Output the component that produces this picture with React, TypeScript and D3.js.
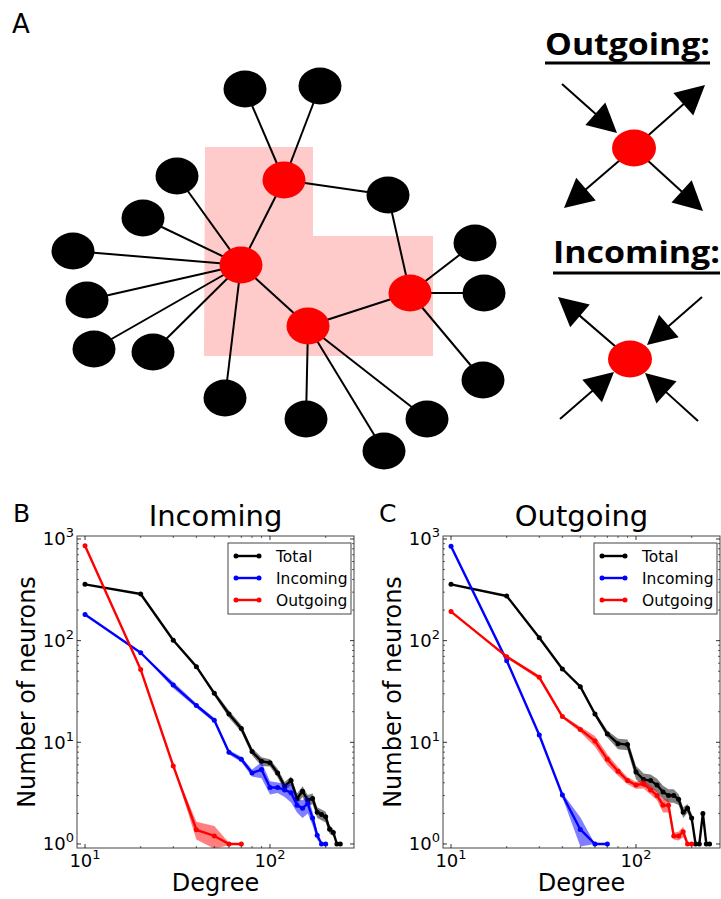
import React from 'react';
import * as d3 from 'd3';

// ---------------- Panel A: network diagram ----------------
const hubX = [284, 241, 308, 410];
const hubY = [180, 265, 326, 293];
const leafX = [245, 320, 177, 143, 73, 87, 94, 153, 225, 306, 384, 427, 483, 484, 475, 388];
const leafY = [89, 86, 176, 218, 251, 300, 349, 352, 398, 419, 451, 419, 380, 293, 243, 195];
const hubHubEdges = [[0, 1], [1, 2], [2, 3]];
const hubLeafEdges = [
  [0, 0], [0, 1], [0, 15],
  [1, 2], [1, 3], [1, 4], [1, 5], [1, 6], [1, 7], [1, 8],
  [2, 9], [2, 10], [2, 11],
  [3, 15], [3, 14], [3, 13], [3, 12],
];
const regionX = [205, 313, 313, 433, 433, 204];
const regionY = [147, 147, 236, 236, 356, 356];

// motif sketches: centre node + arrows [fromX, fromY, tipX, tipY]
const motifLabels = ['Outgoing:', 'Incoming:'];
const motifCenterX = [634, 630];
const motifCenterY = [148, 359];
const outgoingArrows = [
  [562, 84, 617, 133],
  [634, 148, 705, 85],
  [634, 148, 564, 208],
  [634, 148, 703, 211],
];
const incomingArrows = [
  [630, 359, 558, 297],
  [702, 297, 647, 345],
  [560, 419, 614, 372],
  [698, 421, 645, 373],
];

// ---------------- Panels B & C: degree distributions ----------------
const seriesNames = ['Total', 'Incoming', 'Outgoing'];
const seriesColors = ['#000000', '#0000ff', '#ff0000'];

// Panel B ("Incoming")
const degTotalB = [10, 20, 30, 40, 50, 60, 70, 80, 90, 100, 110, 120, 130, 140, 150, 160, 170, 180, 190, 200, 210, 220, 230, 240];
const totalB = [358, 288, 101, 55.5, 30.3, 19, 13.7, 8.1, 6.5, 6.3, 5.0, 3.7, 4.2, 2.8, 3.3, 2.7, 2.8, 2.05, 1.95, 1.85, 1.4, 1.3, 1.0, 1.0];
const totalBSpread = [0, 0, 0, 0.02, 0.05, 0.08, 0.08, 0.08, 0.1, 0.08, 0.1, 0.1, 0.1, 0.12, 0.12, 0.12, 0.12, 0.12, 0.12, 0.12, 0.1, 0.08, 0, 0];
const degInB = [10, 20, 30, 40, 50, 60, 70, 80, 90, 100, 110, 120, 130, 140, 150, 160, 170, 180, 190, 200];
const inB = [181, 76, 36.6, 23, 16.5, 8.0, 6.8, 5.0, 5.4, 3.6, 3.6, 3.4, 3.2, 2.4, 2.25, 2.5, 1.8, 1.22, 1, 1];
const inBSpread = [0, 0, 0.07, 0.05, 0.05, 0.05, 0.06, 0.08, 0.18, 0.15, 0.12, 0.15, 0.2, 0.15, 0.2, 0.2, 0.15, 0.1, 0, 0];
const degOutB = [10, 20, 30, 40, 50, 60, 70];
const outB = [860, 52, 5.85, 1.38, 1.2, 1.0, 1.0];
const outBSpread = [0, 0, 0, 0.2, 0.25, 0.03, 0];

// Panel C ("Outgoing")
const degTotalC = [10, 20, 30, 40, 50, 60, 70, 80, 90, 100, 110, 120, 130, 140, 150, 160, 170, 180, 190, 200, 210, 220, 230, 240, 250];
const totalC = [358, 275, 107, 52.6, 35.3, 19, 12.1, 9.7, 9.5, 5.1, 4.3, 4.2, 3.8, 3.25, 3.0, 3.0, 2.75, 2.05, 2.25, 1.8, 1, 1, 2.0, 1, 1];
const totalCSpread = [0, 0, 0, 0, 0.02, 0.05, 0.08, 0.12, 0.12, 0.15, 0.15, 0.15, 0.15, 0.15, 0.15, 0.15, 0.12, 0.12, 0.1, 0.1, 0, 0, 0, 0, 0];
const degInC = [10, 20, 30, 40, 50, 60, 70];
const inC = [850, 63.6, 11.8, 3.03, 1.39, 1, 1];
const inCSpread = [0, 0, 0, 0.05, 0.32, 0, 0];
const degOutC = [10, 20, 30, 40, 50, 60, 70, 80, 90, 100, 110, 120, 130, 140, 150, 160, 170, 180, 190, 200];
const outC = [193, 69.6, 43.6, 17.9, 13.4, 10.3, 6.8, 5.2, 4.2, 3.8, 3.9, 3.4, 3.0, 2.4, 2.4, 1.2, 1.2, 1.32, 1, 1];
const outCSpread = [0, 0.03, 0.05, 0.03, 0.06, 0.12, 0.12, 0.1, 0.08, 0.08, 0.1, 0.1, 0.1, 0.15, 0.15, 0.08, 0.1, 0.12, 0, 0];

const xMajor = [10, 100];
const xMinor = [20, 30, 40, 50, 60, 70, 80, 90, 200];
const yMajor = [1, 10, 100, 1000];
const yMinor = [2, 3, 4, 5, 6, 7, 8, 9, 20, 30, 40, 50, 60, 70, 80, 90, 200, 300, 400, 500, 600, 700, 800, 900];
const xTickExp = ['1', '2'];
const yTickExp = ['0', '1', '2', '3'];

const FONT = 'DejaVu Sans, sans-serif';

type Series = { deg: number[]; val: number[]; spread: number[] };

function Arrow({ a }: { a: number[] }) {
  const [x0, y0, x1, y1] = a;
  const dx = x1 - x0, dy = y1 - y0;
  const len = Math.hypot(dx, dy);
  const ux = dx / len, uy = dy / len;
  const L = 29, w = 15;
  const bx = x1 - ux * L, by = y1 - uy * L;
  const pts = [[x1, y1], [bx - uy * w, by + ux * w], [bx + uy * w, by - ux * w]];
  return (
    <g>
      <line x1={x0} y1={y0} x2={bx + ux * 2} y2={by + uy * 2} stroke="#000" strokeWidth={2} />
      <polygon points={pts.map((p) => p.join(',')).join(' ')} fill="#000" />
    </g>
  );
}

function Panel({ left, title, letter, series }: { left: number; title: string; letter: string; series: Series[] }) {
  const right = left + 277;
  const top = 536, bottom = 848;
  const x = d3.scaleLog().domain([9.05, 284.6]).range([left, right]);
  const y = d3.scaleLog().domain([0.913, 1070]).range([bottom, top]);
  const line = d3.line<[number, number]>().x((d) => x(d[0])).y((d) => y(d[1]));
  const area = d3
    .area<[number, number, number]>()
    .x((d) => x(d[0]))
    .y0((d) => y(d[1] * (1 - d[2])))
    .y1((d) => y(d[1] * (1 + d[2])));
  const cx = (left + right) / 2;
  const lgX = right - 126, lgY = 543;
  return (
    <g fontFamily={FONT}>
      <text x={left - 64} y={522} fontSize={25}>{letter}</text>
      <text x={cx} y={526} fontSize={29} textAnchor="middle">{title}</text>
      <defs>
        <clipPath id={`clip-${letter}`}>
          <rect x={left} y={top} width={right - left} height={bottom - top} />
        </clipPath>
      </defs>
      <g clipPath={`url(#clip-${letter})`}>
        {series.map((s, i) => {
          const pts = s.deg.map((d, j) => [d, s.val[j], s.spread[j]] as [number, number, number]);
          return (
            <g key={i}>
              <path d={area(pts) || ''} fill={seriesColors[i]} fillOpacity={0.5} stroke="none" />
              <path d={line(pts.map((p) => [p[0], p[1]] as [number, number])) || ''} fill="none" stroke={seriesColors[i]} strokeWidth={2.4} strokeLinejoin="round" />
              {pts.map((p, j) => (
                <circle key={j} cx={x(p[0])} cy={y(p[1])} r={2.5} fill={seriesColors[i]} />
              ))}
            </g>
          );
        })}
      </g>
      {/* frame */}
      <rect x={left} y={top} width={right - left} height={bottom - top} fill="none" stroke="#444" strokeWidth={1} />
      {/* ticks */}
      {xMajor.map((t) => (
        <g key={`xM${t}`} stroke="#000" strokeWidth={0.8}>
          <line x1={x(t)} x2={x(t)} y1={bottom} y2={bottom - 4} />
          <line x1={x(t)} x2={x(t)} y1={top} y2={top + 4} />
        </g>
      ))}
      {xMinor.map((t) => (
        <g key={`xm${t}`} stroke="#000" strokeWidth={0.6}>
          <line x1={x(t)} x2={x(t)} y1={bottom} y2={bottom - 2} />
          <line x1={x(t)} x2={x(t)} y1={top} y2={top + 2} />
        </g>
      ))}
      {yMajor.map((t) => (
        <g key={`yM${t}`} stroke="#000" strokeWidth={0.8}>
          <line x1={left} x2={left + 4} y1={y(t)} y2={y(t)} />
          <line x1={right} x2={right - 4} y1={y(t)} y2={y(t)} />
        </g>
      ))}
      {yMinor.map((t) => (
        <g key={`ym${t}`} stroke="#000" strokeWidth={0.6}>
          <line x1={left} x2={left + 2} y1={y(t)} y2={y(t)} />
          <line x1={right} x2={right - 2} y1={y(t)} y2={y(t)} />
        </g>
      ))}
      {/* tick labels */}
      {xMajor.map((t, i) => (
        <text key={`xl${t}`} x={x(t)} y={867} fontSize={18} textAnchor="middle">
          10<tspan fontSize={13} dy={-8}>{xTickExp[i]}</tspan>
        </text>
      ))}
      {yMajor.map((t, i) => (
        <text key={`yl${t}`} x={left - 3} y={y(t) + 6.5} fontSize={18} textAnchor="end">
          10<tspan fontSize={13} dy={-8}>{yTickExp[i]}</tspan>
        </text>
      ))}
      <text x={cx} y={891} fontSize={24} textAnchor="middle">Degree</text>
      <text transform={`translate(${left - 42},692) rotate(-90)`} fontSize={24} textAnchor="middle">Number of neurons</text>
      {/* legend */}
      <rect x={lgX} y={lgY} width={123} height={71} fill="#fff" stroke="#444" strokeWidth={1} />
      {seriesNames.map((n, i) => {
        const yy = lgY + 13 + i * 22;
        return (
          <g key={n}>
            <line x1={lgX + 8} x2={lgX + 31} y1={yy} y2={yy} stroke={seriesColors[i]} strokeWidth={2.4} />
            <circle cx={lgX + 8} cy={yy} r={2.5} fill={seriesColors[i]} />
            <circle cx={lgX + 31} cy={yy} r={2.5} fill={seriesColors[i]} />
            <text x={lgX + 48} y={yy + 5.5} fontSize={15.5}>{n}</text>
          </g>
        );
      })}
    </g>
  );
}

export default function App() {
  const seriesB: Series[] = [
    { deg: degTotalB, val: totalB, spread: totalBSpread },
    { deg: degInB, val: inB, spread: inBSpread },
    { deg: degOutB, val: outB, spread: outBSpread },
  ];
  const seriesC: Series[] = [
    { deg: degTotalC, val: totalC, spread: totalCSpread },
    { deg: degInC, val: inC, spread: inCSpread },
    { deg: degOutC, val: outC, spread: outCSpread },
  ];
  const region = regionX.map((v, i) => `${v},${regionY[i]}`).join(' ');
  const arrowSets = [outgoingArrows, incomingArrows];
  const labelX = [545, 553];
  const labelY = [55, 263];
  const labelW = [165, 167];
  const underlineY = [63, 273];
  return (
    <svg width={721} height={899} style={{ position: 'absolute', left: 0, top: 0, background: '#fff' }}>
      <rect x={0} y={0} width={721} height={899} fill="#fff" />
      {/* Panel A */}
      <text x={12} y={33} fontSize={26} fontFamily={FONT}>A</text>
      <polygon points={region} fill="#ffcaca" />
      {hubHubEdges.map(([a, b], i) => (
        <line key={`hh${i}`} x1={hubX[a]} y1={hubY[a]} x2={hubX[b]} y2={hubY[b]} stroke="#000" strokeWidth={2} />
      ))}
      {hubLeafEdges.map(([a, b], i) => (
        <line key={`hl${i}`} x1={hubX[a]} y1={hubY[a]} x2={leafX[b]} y2={leafY[b]} stroke="#000" strokeWidth={2} />
      ))}
      {leafX.map((v, i) => (
        <ellipse key={`l${i}`} cx={v} cy={leafY[i]} rx={21.5} ry={18.5} fill="#000" />
      ))}
      {hubX.map((v, i) => (
        <ellipse key={`h${i}`} cx={v} cy={hubY[i]} rx={21.5} ry={18.5} fill="#ff0000" />
      ))}
      {motifLabels.map((t, i) => (
        <g key={t}>
          <text x={labelX[i]} y={labelY[i]} fontSize={31} fontWeight={700} fontFamily="Open Sans, sans-serif" textLength={labelW[i]} lengthAdjust="spacingAndGlyphs">{t}</text>
          <rect x={labelX[i]} y={underlineY[i] - 1.5} width={labelW[i]} height={3} fill="#000" />
          {arrowSets[i].map((a, j) => <Arrow key={j} a={a} />)}
          <ellipse cx={motifCenterX[i]} cy={motifCenterY[i]} rx={22} ry={18.5} fill="#ff0000" />
        </g>
      ))}
      <Panel left={77} title="Incoming" letter="B" series={seriesB} />
      <Panel left={443} title="Outgoing" letter="C" series={seriesC} />
    </svg>
  );
}
